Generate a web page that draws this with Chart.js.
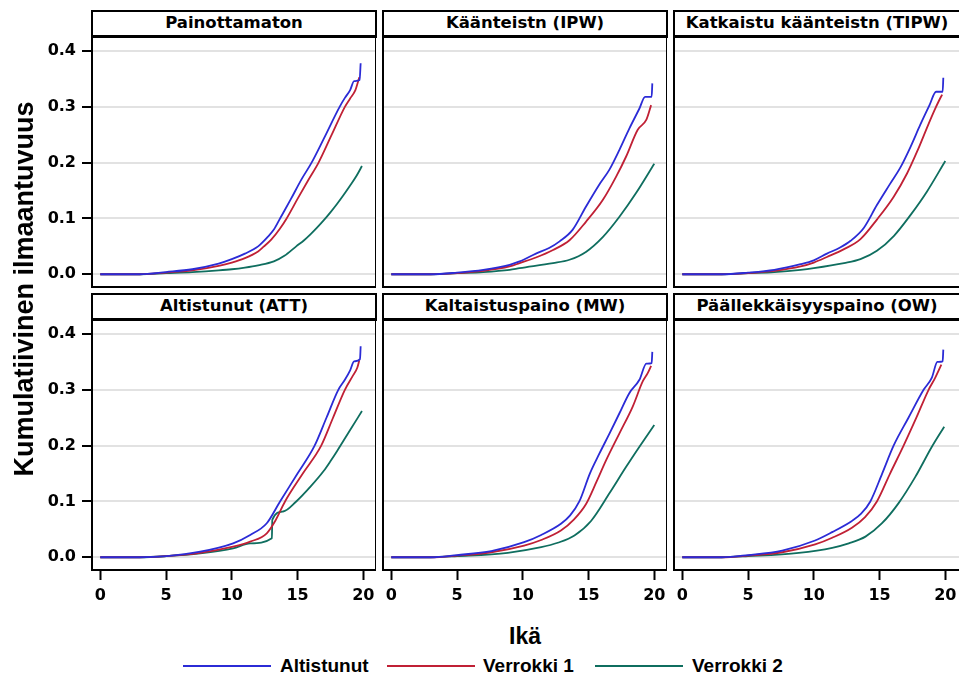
<!DOCTYPE html>
<html>
<head>
<meta charset="utf-8">
<script src="https://cdn.jsdelivr.net/npm/chart.js@4/dist/chart.umd.min.js"></script>
<style>
  body { margin: 0; background: #fff; overflow: hidden; }
  #wrap { position: relative; width: 959px; height: 677px; overflow: hidden; background: #fff; }
  .head {
    position: absolute; box-sizing: border-box; height: 28px;
    border: 2px solid #000; border-bottom-width: 3px; background: #fff;
    font: bold 16.5px 'DejaVu Sans', sans-serif; color: #000;
    text-align: center; line-height: 22px;
  }
  canvas { position: absolute; }
  .txt { position: absolute; font-family: 'Liberation Sans', Arial, sans-serif; font-weight: bold; color: #000; white-space: nowrap; }
  .key { position: absolute; height: 2px; width: 88px; }
</style>
</head>
<body>
<div id="wrap"></div>
<script>
// panel titles and series
const panelTitles = ['Painottamaton', 'Käänteistn (IPW)', 'Katkaistu käänteistn (TIPW)',
                     'Altistunut (ATT)', 'Kaltaistuspaino (MW)', 'Päällekkäisyyspaino (OW)'];
const seriesNames = ['Altistunut', 'Verrokki 1', 'Verrokki 2'];
const seriesColors = ['#2b2bd6', '#c02035', '#0f6e5f'];
const xTickVals = [0, 5, 10, 15, 20];
const yTickVals = [0, 0.1, 0.2, 0.3, 0.4];

// [ikä, kumulatiivinen ilmaantuvuus]
const p1Alt = [[0,0],[3,0],[5,0.004],[7,0.009],[9,0.019],[10,0.027],[11,0.037],[12,0.05],[12.7,0.066],[13.2,0.08],[13.67,0.1],[14.5,0.135],[15.3,0.17],[16.07,0.2],[17,0.243],[18.2,0.3],[18.6,0.316],[19,0.33],[19.3,0.346],[19.72,0.348],[19.8,0.378]];
const p1Ver1 = [[0,0],[3,0],[5,0.003],[7,0.007],[9,0.015],[10,0.021],[11,0.029],[12,0.041],[12.4,0.049],[13,0.062],[13.67,0.082],[14.17,0.1],[15,0.135],[15.8,0.168],[16.6,0.2],[17.6,0.25],[18.6,0.3],[19,0.315],[19.4,0.33],[19.6,0.345],[19.7,0.353]];
const p1Ver2 = [[0,0],[3,0],[5,0.002],[7,0.004],[9,0.007],[10,0.009],[11,0.012],[12,0.016],[13.2,0.023],[14,0.033],[14.9,0.05],[15.5,0.061],[16,0.072],[16.5,0.084],[17,0.097],[17.5,0.111],[18,0.126],[18.5,0.142],[19,0.159],[19.5,0.177],[19.9,0.194]];

const p2Alt = [[0,0],[3,0],[5,0.003],[7,0.008],[9,0.017],[9.76,0.023],[11,0.037],[12,0.047],[12.8,0.059],[13.8,0.08],[14.8,0.121],[15.8,0.16],[16.6,0.188],[17.35,0.223],[18.1,0.261],[18.87,0.297],[19.3,0.318],[19.8,0.318],[19.85,0.342]];
const p2Ver1 = [[0,0],[3,0],[5,0.002],[7,0.006],[9,0.014],[9.76,0.02],[11,0.03],[12.3,0.0435],[13.55,0.061],[14.8,0.094],[16.08,0.133],[17.1,0.175],[17.86,0.211],[18.74,0.259],[19.4,0.277],[19.76,0.303]];
const p2Ver2 = [[0,0],[3,0],[5,0.002],[7,0.004],[9,0.008],[9.76,0.011],[12.3,0.02],[13.55,0.026],[14.8,0.04],[16.1,0.067],[17.35,0.103],[18.6,0.145],[20,0.198]];

const p3Alt = [[0,0],[3,0],[5,0.003],[7,0.008],[9,0.018],[10,0.025],[11,0.037],[12,0.048],[12.8,0.06],[13.8,0.083],[14.8,0.124],[15.8,0.162],[16.6,0.192],[17.35,0.228],[18.1,0.268],[18.8,0.303],[19.3,0.327],[19.8,0.327],[19.85,0.352]];
const p3Ver1 = [[0,0],[3,0],[5,0.002],[7,0.006],[9,0.014],[10,0.021],[11,0.031],[12.3,0.045],[13.55,0.063],[14.8,0.098],[16.08,0.139],[17.1,0.181],[17.86,0.22],[18.74,0.27],[19.2,0.295],[19.5,0.31],[19.76,0.322]];
const p3Ver2 = [[0,0],[3,0],[5,0.002],[7,0.004],[9,0.008],[10,0.011],[12.3,0.02],[13.55,0.027],[14.8,0.042],[16.1,0.069],[17.35,0.106],[18.6,0.148],[20,0.203]];

const p4Alt = [[0,0],[3,0],[5.06,0.002],[7.6,0.01],[10.1,0.025],[11.4,0.04],[12.66,0.061],[13.67,0.1],[15,0.15],[16.3,0.2],[17.2,0.25],[18.1,0.3],[18.6,0.318],[19,0.335],[19.3,0.351],[19.75,0.355],[19.8,0.378]];
const p4Ver1 = [[0,0],[3,0],[5,0.002],[7.6,0.008],[10.1,0.019],[11.4,0.028],[12.66,0.043],[13.3,0.065],[14.05,0.1],[15.4,0.15],[16.8,0.2],[17.7,0.25],[18.6,0.3],[19.2,0.325],[19.55,0.34],[19.7,0.353]];
const p4Ver2 = [[0,0],[3,0],[5,0.002],[7.6,0.007],[10.1,0.016],[11.4,0.025],[13.05,0.034],[13.08,0.067],[13.9,0.082],[14.9,0.1],[16,0.127],[17,0.155],[17.5,0.172],[18,0.19],[19,0.228],[19.9,0.262]];

const p5Alt = [[0,0],[3,0],[5,0.004],[7.6,0.011],[10.1,0.027],[11.4,0.04],[12.9,0.06],[13.6,0.075],[14.3,0.1],[15.1,0.15],[15.83,0.186],[16.6,0.222],[17.35,0.258],[18.1,0.294],[18.87,0.318],[19.4,0.347],[19.8,0.348],[19.85,0.368]];
const p5Ver1 = [[0,0],[3,0],[5,0.003],[7.6,0.009],[10.1,0.021],[11.4,0.031],[12.9,0.048],[13.9,0.068],[14.8,0.095],[15.6,0.135],[16.34,0.174],[17.35,0.222],[18.36,0.27],[19.12,0.315],[19.5,0.33],[19.76,0.343]];
const p5Ver2 = [[0,0],[3,0],[5,0.002],[8.86,0.008],[11.4,0.018],[12.66,0.026],[13.93,0.039],[15.19,0.065],[16.6,0.115],[17.86,0.162],[18.87,0.198],[20,0.237]];

const p6Alt = [[0,0],[3,0],[5,0.004],[7.6,0.012],[10.1,0.03],[11.4,0.045],[12.9,0.065],[13.6,0.078],[14.3,0.1],[15.2,0.15],[16.07,0.2],[17.2,0.25],[18.35,0.3],[18.98,0.322],[19.4,0.35],[19.8,0.351],[19.85,0.372]];
const p6Ver1 = [[0,0],[3,0],[5,0.003],[7.6,0.009],[10.1,0.023],[11.4,0.035],[12.9,0.053],[13.9,0.072],[14.8,0.1],[15.8,0.15],[16.83,0.2],[17.8,0.25],[18.73,0.3],[19.2,0.32],[19.7,0.345]];
const p6Ver2 = [[0,0],[3,0],[5,0.002],[8.86,0.008],[11.4,0.017],[12.66,0.025],[13.93,0.037],[15.19,0.061],[16.45,0.097],[17.72,0.144],[18.98,0.198],[19.92,0.234]];

const panelSeries = [
  [p1Alt, p1Ver1, p1Ver2], [p2Alt, p2Ver1, p2Ver2], [p3Alt, p3Ver1, p3Ver2],
  [p4Alt, p4Ver1, p4Ver2], [p5Alt, p5Ver1, p5Ver2], [p6Alt, p6Ver1, p6Ver2]
];

// layout (pixels)
const colL = [92, 383, 674];
const colW = [284, 284, 286];
const rowT = [37, 320];
const headT = [10, 293];
const plotH = 250;
const yAxisW = 70, xAxisH = 50;
const pxPerYear = 13.15;
const xMin = -0.63;
const yMin = -0.0228, yMax = 0.4251;

const wrap = document.getElementById('wrap');

// frame round each plot area
const framePlugin = {
  id: 'frame',
  afterDraw(chart) {
    const a = chart.chartArea, ctx = chart.ctx;
    ctx.save();
    ctx.strokeStyle = '#000';
    ctx.lineWidth = 2;
    ctx.strokeRect(a.left, a.top, a.right - a.left, a.bottom - a.top);
    ctx.restore();
  }
};

const tickFont = { family: "'DejaVu Sans', sans-serif", size: 16, weight: 'bold' };

// fixed axis sizes, no extra label padding, so every plot area lands where it should
const fixSize = (s, prop, val) => {
  s[prop] = val;
  s.paddingTop = 0; s.paddingBottom = 0; s.paddingLeft = 0; s.paddingRight = 0;
};

panelTitles.forEach((title, idx) => {
  const r = Math.floor(idx / 3), c = idx % 3;
  const w = colW[c];

  const head = document.createElement('div');
  head.className = 'head';
  head.style.left = (colL[c] - 1) + 'px';
  head.style.top = headT[r] + 'px';
  head.style.width = (w + 2) + 'px';
  head.textContent = title;
  wrap.appendChild(head);

  const canvas = document.createElement('canvas');
  canvas.width = yAxisW + w;
  canvas.height = plotH + xAxisH;
  canvas.style.left = (colL[c] - yAxisW) + 'px';
  canvas.style.top = rowT[r] + 'px';
  wrap.appendChild(canvas);

  const datasets = panelSeries[idx].map((pts, s) => ({
    label: seriesNames[s],
    data: pts.map(p => ({ x: p[0], y: p[1] })),
    borderColor: seriesColors[s],
    borderWidth: 1.8,
    pointRadius: 0,
    fill: false,
    cubicInterpolationMode: 'monotone'
  }));

  new Chart(canvas, {
    type: 'line',
    data: { datasets: datasets },
    options: {
      responsive: false,
      animation: false,
      layout: { padding: 0 },
      plugins: { legend: { display: false }, tooltip: { enabled: false } },
      scales: {
        x: {
          type: 'linear',
          min: xMin,
          max: xMin + w / pxPerYear,
          afterBuildTicks: s => { s.ticks = xTickVals.map(v => ({ value: v })); },
          afterFit: s => fixSize(s, 'height', xAxisH),
          border: { display: false },
          grid: { drawOnChartArea: false, drawTicks: r === 1, tickLength: 10, tickColor: '#000', tickWidth: 2 },
          ticks: { display: r === 1, color: '#000', font: tickFont, padding: 6, maxRotation: 0, autoSkip: false }
        },
        y: {
          min: yMin,
          max: yMax,
          afterBuildTicks: s => { s.ticks = yTickVals.map(v => ({ value: v })); },
          afterFit: s => fixSize(s, 'width', yAxisW),
          border: { display: false },
          grid: { color: '#e2e2e2', lineWidth: 2, drawTicks: c === 0, tickLength: 10, tickColor: '#000', tickWidth: 2 },
          ticks: { display: c === 0, color: '#000', font: tickFont, padding: 6, callback: v => v.toFixed(1) }
        }
      }
    },
    plugins: [framePlugin]
  });
});

// axis titles
const yTitle = document.createElement('div');
yTitle.className = 'txt';
yTitle.textContent = 'Kumulatiivinen ilmaantuvuus';
Object.assign(yTitle.style, {
  left: (24 - 250) + 'px', top: (289 - 15) + 'px', width: '500px', height: '30px',
  lineHeight: '30px', fontSize: '27px', textAlign: 'center', transform: 'rotate(-90deg)'
});
wrap.appendChild(yTitle);

const xTitle = document.createElement('div');
xTitle.className = 'txt';
xTitle.textContent = 'Ikä';
Object.assign(xTitle.style, {
  left: '92px', width: '866px', top: '623px', lineHeight: '26px', fontSize: '23px', textAlign: 'center'
});
wrap.appendChild(xTitle);

// legend
const keyLeft = [183, 387, 595];
const keyTextLeft = [280, 483, 692];
seriesNames.forEach((name, s) => {
  const line = document.createElement('div');
  line.className = 'key';
  line.style.left = keyLeft[s] + 'px';
  line.style.top = '665px';
  line.style.background = seriesColors[s];
  wrap.appendChild(line);

  const t = document.createElement('div');
  t.className = 'txt';
  t.textContent = name;
  Object.assign(t.style, { left: keyTextLeft[s] + 'px', top: '655px', fontSize: '19px', lineHeight: '22px' });
  wrap.appendChild(t);
});
</script>
</body>
</html>
